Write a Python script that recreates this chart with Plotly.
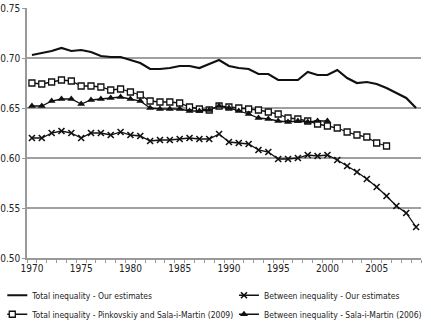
import plotly.graph_objects as go

years = list(range(1970, 2010))
years_pink = list(range(1970, 2007))
years_sala = list(range(1970, 2001))

total_ours = [0.703, 0.705, 0.707, 0.710, 0.707, 0.708, 0.706, 0.702, 0.701, 0.701,
              0.698, 0.695, 0.689, 0.689, 0.690, 0.692, 0.692, 0.690, 0.694, 0.698,
              0.692, 0.690, 0.689, 0.684, 0.684, 0.678, 0.678, 0.678, 0.686, 0.683,
              0.683, 0.688, 0.680, 0.675, 0.676, 0.674, 0.670, 0.665, 0.660, 0.650]
between_ours = [0.620, 0.620, 0.625, 0.627, 0.625, 0.620, 0.625, 0.625, 0.623, 0.626,
                0.623, 0.622, 0.617, 0.618, 0.618, 0.619, 0.620, 0.619, 0.619, 0.624,
                0.616, 0.615, 0.614, 0.608, 0.606, 0.599, 0.599, 0.600, 0.603, 0.602,
                0.603, 0.598, 0.592, 0.586, 0.579, 0.571, 0.562, 0.552, 0.545, 0.531]
total_pink = [0.675, 0.674, 0.676, 0.678, 0.677, 0.672, 0.672, 0.671, 0.668, 0.669,
              0.666, 0.663, 0.657, 0.656, 0.656, 0.655, 0.651, 0.649, 0.648, 0.652,
              0.651, 0.650, 0.649, 0.648, 0.646, 0.644, 0.640, 0.639, 0.637, 0.634,
              0.632, 0.630, 0.626, 0.623, 0.621, 0.615, 0.612]
between_sala = [0.652, 0.652, 0.657, 0.659, 0.659, 0.654, 0.658, 0.659, 0.660, 0.661,
                0.659, 0.657, 0.650, 0.649, 0.649, 0.649, 0.647, 0.647, 0.648, 0.652,
                0.650, 0.647, 0.644, 0.640, 0.639, 0.637, 0.636, 0.637, 0.636, 0.637,
                0.637]

x_tickvals = [1970, 1975, 1980, 1985, 1990, 1995, 2000, 2005]
x_ticktext = ["1970", "1975", "1980", "1985", "1990", "1995", "2000", "2005"]
y_tickvals = [0.50, 0.55, 0.60, 0.65, 0.70, 0.75]
y_ticktext = ["0.50", "0.55", "0.60", "0.65", "0.70", "0.75"]

FONT = "DejaVu Sans Condensed, Liberation Sans, sans-serif"

fig = go.Figure()
fig.add_trace(go.Scatter(
    x=years, y=total_ours, mode="lines", name="Total inequality - Our estimates",
    line=dict(color="#111111", width=2.2), legend="legend"))
fig.add_trace(go.Scatter(
    x=years_pink, y=total_pink, mode="lines+markers",
    name="Total inequality - Pinkovskiy and Sala-i-Martin (2009)",
    line=dict(color="#111111", width=1.3),
    marker=dict(symbol="square", size=6, color="white", line=dict(color="#111111", width=1.3)),
    legend="legend"))
fig.add_trace(go.Scatter(
    x=years, y=between_ours, mode="lines+markers", name="Between inequality - Our estimates",
    line=dict(color="#111111", width=1.3),
    marker=dict(symbol="x-thin", size=6, color="#111111", line=dict(color="#111111", width=1.6)),
    legend="legend2"))
fig.add_trace(go.Scatter(
    x=years_sala, y=between_sala, mode="lines+markers", name="Between inequality - Sala-i-Martin (2006)",
    line=dict(color="#111111", width=1.3),
    marker=dict(symbol="triangle-up", size=7, color="#111111"),
    legend="legend2"))

legend_font = dict(family=FONT, size=8.5, color="#222222")
fig.update_layout(
    width=431, height=326,
    margin=dict(l=27, r=10, t=8, b=68, autoexpand=False),
    paper_bgcolor="white", plot_bgcolor="white",
    font=dict(family=FONT, size=10, color="#222222"),
    showlegend=True,
    legend=dict(x=-0.05, y=-0.091, xanchor="left", yanchor="top", orientation="v",
                indentation=-15, font=legend_font,
                bgcolor="rgba(0,0,0,0)", tracegroupgap=0),
    legend2=dict(x=0.538, y=-0.091, xanchor="left", yanchor="top", orientation="v",
                 indentation=-15, font=legend_font,
                 bgcolor="rgba(0,0,0,0)", tracegroupgap=0),
    xaxis=dict(range=[1969.5, 2009.5], tickmode="array", tickvals=x_tickvals, ticktext=x_ticktext,
               ticks="", showgrid=False, zeroline=False, showline=True, linecolor="#999999",
               linewidth=1.5, tickfont=dict(family=FONT, size=10, color="#222222"),
               minor=dict(ticks="outside", tickmode="linear", tick0=1969.5, dtick=1,
                          ticklen=3, tickcolor="#999999", tickwidth=1, showgrid=False)),
    yaxis=dict(range=[0.50, 0.75], tickmode="array", tickvals=y_tickvals, ticktext=y_ticktext,
               ticks="outside", ticklen=3, tickcolor="#999999", showgrid=True,
               gridcolor="#a0a0a0", gridwidth=1.5, zeroline=False, showline=True,
               linecolor="#999999", linewidth=1.5,
               tickfont=dict(family=FONT, size=10, color="#222222")),
)

fig.write_html("out.html")
